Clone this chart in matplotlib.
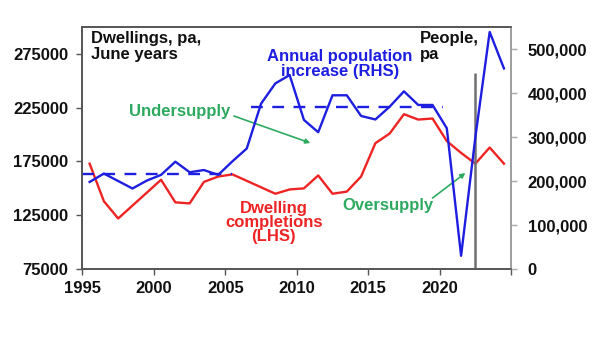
import matplotlib
matplotlib.use("Agg")
import matplotlib.pyplot as plt
from matplotlib.ticker import FuncFormatter

# ---- data ----
years = list(range(1995, 2025))  # June years, plotted mid-year
dwellings = [173000, 138000, 122000, 134000, 146000, 158000, 137000, 136000, 156000, 161000,
             163000, 157000, 151000, 145000, 149000, 150000, 162000, 145000, 147000, 161000,
             192000, 201000, 219000, 214000, 215000, 194000, 183000, 173000, 188000, 173000]
population = [198000, 217000, 200000, 183000, 201000, 214000, 244000, 220000, 225000, 214000,
              245000, 274000, 376000, 422000, 441000, 339000, 311000, 395000, 395000, 348000,
              340000, 369000, 404000, 373000, 373000, 320000, 30000, 300000, 539000, 456000]
avg_periods = [(1995, 2005.5), (2006.8, 2020.2)]
avg_values = [215000, 368000]
left_ticks = [75000, 125000, 175000, 225000, 275000]
right_ticks = [0, 100000, 200000, 300000, 400000, 500000]
x_ticks = [1995, 2000, 2005, 2010, 2015, 2020, 2025]
x_labels = ["1995", "2000", "2005", "2010", "2015", "2020", ""]
marker_year = 2022.5
marker_top = 257000

xpos = [y + 0.5 for y in years]

BLUE = "#1e1ee0"
RED = "#ee2424"
GREEN = "#2eaa60"
FONT = "Liberation Sans"

plt.rcParams["font.family"] = [FONT, "DejaVu Sans"]
plt.rcParams["font.weight"] = "bold"

fig = plt.figure(figsize=(6.02, 3.39), dpi=100)
ax = fig.add_axes([0.137, 0.2065, 0.712, 0.7135])
ax2 = ax.twinx()

ax.plot(xpos, dwellings, color=RED, lw=1.7, zorder=3)
ax2.plot(xpos, population, color=BLUE, lw=1.7, zorder=3)
for (x0, x1), v in zip(avg_periods, avg_values):
    ax2.plot([x0, x1], [v, v], color=BLUE, lw=1.7, dashes=(5, 4))
ax.vlines(marker_year, 75000, marker_top, color="#707070", lw=1.8, zorder=4)

ax.set_xlim(1995, 2025)
ax.set_ylim(75000, 300000)
ax2.set_ylim(0, 550000)

ax.set_xticks(x_ticks)
ax.set_xticklabels(x_labels)
ax.set_yticks(left_ticks)
ax2.set_yticks(right_ticks)
ax2.yaxis.set_major_formatter(FuncFormatter(lambda v, p: f"{int(v):,}"))

tick_kw = dict(labelsize=12, direction="out", length=4, width=1)
ax.tick_params(axis="y", pad=6, color="#555555", **tick_kw)
ax.tick_params(axis="x", pad=5, color="#555555", **tick_kw)
ax2.tick_params(axis="y", pad=8, color="#aaaaaa", **tick_kw)
for lab in ax.get_xticklabels() + ax.get_yticklabels() + ax2.get_yticklabels():
    lab.set_fontweight("bold")
    lab.set_color("#111111")

for a in (ax, ax2):
    for s in a.spines.values():
        s.set_color("#555555")
        s.set_linewidth(1.2)
ax2.spines["right"].set_color("#aaaaaa")

fs = 12
ax.text(1995.6, 296500, "Dwellings, pa,\nJune years", ha="left", va="top",
        fontsize=fs, fontweight="bold", color="#111111", linespacing=1.12)
ax.text(2013.0, 265500, "Annual population\nincrease (RHS)", ha="center", va="center",
        fontsize=fs, fontweight="bold", color=BLUE, linespacing=1.0)
ax.text(2018.65, 296000, "People,\npa", ha="left", va="top",
        fontsize=fs, fontweight="bold", color="#111111", linespacing=1.05)
ax.text(2008.4, 118500, "Dwelling\ncompletions\n(LHS)", ha="center", va="center",
        fontsize=fs, fontweight="bold", color=RED, linespacing=0.92)
ax.text(2001.8, 221300, "Undersupply", ha="center", va="center",
        fontsize=fs, fontweight="bold", color=GREEN)
ax.text(2016.4, 134500, "Oversupply", ha="center", va="center",
        fontsize=fs, fontweight="bold", color=GREEN)

arrow = dict(arrowstyle="-|>", color=GREEN, lw=1.2, mutation_scale=7, shrinkA=0, shrinkB=0)
ax.annotate("", xy=(2010.95, 192200), xytext=(2005.6, 217300), arrowprops=arrow, zorder=5)
ax.annotate("", xy=(2021.8, 164300), xytext=(2019.5, 141000), arrowprops=arrow, zorder=5)

fig.savefig("out.png", dpi=100)
